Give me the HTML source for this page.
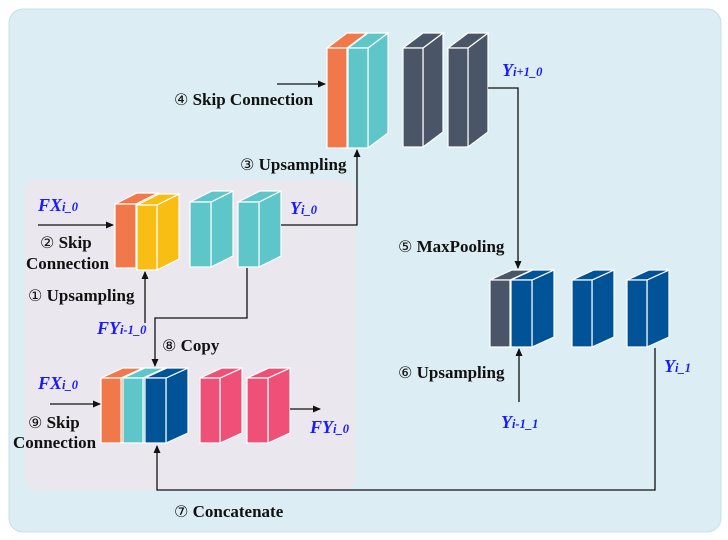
<!DOCTYPE html>
<html><head><meta charset="utf-8"><style>
html,body{margin:0;padding:0;background:#fff;}
svg{display:block;}
text{font-family:"Liberation Serif",serif;font-weight:bold;}
.l{font-size:17px;fill:#111;}
.b{font-size:18px;fill:#1a1aff;font-style:italic;}
.s{font-size:12.5px;}
.c{font-weight:normal;font-family:"DejaVu Sans",sans-serif;font-size:16px;}
</style></head><body>
<svg id="sv" width="728" height="540" viewBox="0 0 728 540" xmlns="http://www.w3.org/2000/svg">
<defs><marker id="a" markerWidth="8" markerHeight="8" refX="7" refY="4" orient="auto" markerUnits="userSpaceOnUse"><path d="M0,0.5 L8,4 L0,7.5z" fill="#111"/></marker></defs>
<rect x="9" y="9" width="712" height="523" rx="14" fill="#dcedf3" stroke="#c9dfe7"/>
<rect x="25" y="180" width="331" height="310" rx="12" fill="#ebe7ef"/>
<g id="blocks"></g>
<g stroke="#111" stroke-width="1.3" fill="none">
<line x1="277" y1="84" x2="325" y2="84" marker-end="url(#a)"/>
<polyline points="488,88 518,88 518,268" marker-end="url(#a)"/>
<polyline points="281,225 357,225 357,150" marker-end="url(#a)"/>
<line x1="38" y1="225" x2="113" y2="225" marker-end="url(#a)"/>
<line x1="145" y1="323" x2="145" y2="272" marker-end="url(#a)"/>
<polyline points="247,268 247,318 155,318 155,366" marker-end="url(#a)"/>
<line x1="50" y1="404" x2="100" y2="404" marker-end="url(#a)"/>
<line x1="290" y1="409" x2="320" y2="409" marker-end="url(#a)"/>
<polyline points="655,348 655,490 157,490 157,446" marker-end="url(#a)"/>
<line x1="519" y1="402" x2="519" y2="349" marker-end="url(#a)"/>
</g>
<text class="l" x="174" y="105"><tspan class="c">④</tspan> Skip Connection</text>
<text class="l" x="240" y="170"><tspan class="c">③</tspan> Upsampling</text>
<text class="b" x="502" y="76">Y<tspan class="s">i+1_0</tspan></text>
<text class="b" x="38" y="211">FX<tspan class="s">i_0</tspan></text>
<text class="l" x="40" y="248"><tspan class="c">②</tspan> Skip</text>
<text class="l" x="26" y="269">Connection</text>
<text class="l" x="28" y="301"><tspan class="c">①</tspan> Upsampling</text>
<text class="b" x="290" y="214">Y<tspan class="s">i_0</tspan></text>
<text class="b" x="97" y="334">FY<tspan class="s">i-1_0</tspan></text>
<text class="l" x="162" y="351"><tspan class="c">⑧</tspan> Copy</text>
<text class="b" x="38" y="389">FX<tspan class="s">i_0</tspan></text>
<text class="l" x="28" y="428"><tspan class="c">⑨</tspan> Skip</text>
<text class="l" x="13" y="448">Connection</text>
<text class="b" x="310" y="433">FY<tspan class="s">i_0</tspan></text>
<text class="l" x="174" y="517"><tspan class="c">⑦</tspan> Concatenate</text>
<text class="l" x="398" y="252"><tspan class="c">⑤</tspan> MaxPooling</text>
<text class="l" x="398" y="378"><tspan class="c">⑥</tspan> Upsampling</text>
<text class="b" x="664" y="372">Y<tspan class="s">i_1</tspan></text>
<text class="b" x="501" y="428">Y<tspan class="s">i-1_1</tspan></text>
</svg>
<script>
var g=document.getElementById('blocks'),h='';
function B(x,y,w,hh,dx,dy,c){
var st=' fill="'+c+'" stroke="#fff" stroke-width="1.2"';
h+='<polygon points="'+(x+w)+','+y+' '+(x+w+dx)+','+(y-dy)+' '+(x+w+dx)+','+(y+hh-dy)+' '+(x+w)+','+(y+hh)+'"'+st+'/>';
h+='<polygon points="'+x+','+y+' '+(x+dx)+','+(y-dy)+' '+(x+w+dx)+','+(y-dy)+' '+(x+w)+','+y+'"'+st+'/>';
h+='<rect x="'+x+'" y="'+y+'" width="'+w+'" height="'+hh+'"'+st+'/>';
}
var O='#f0784a',C='#5ec6c8',D='#4b5568',Yl='#f8be14',Bl='#005396',P='#ef5077';
B(327,48,20,100,20,15,O);B(348,48,20,100,20,15,C);
B(403,48,20,99,20,15,D);B(448,48,20,99,20,15,D);
B(115,204,21,64,22,11,O);B(137,205,20,65,22,11,Yl);
B(190,202,21,65,22,11,C);B(238,202,21,65,22,11,C);
B(101,378,20,65,22,10,O);B(123,378,20,65,22,10,C);B(145,378,21,65,22,10,Bl);
B(200,378,20,65,22,10,P);B(247,378,21,65,22,10,P);
B(490,280,20,67,22,10,D);B(511,280,21,67,22,10,Bl);
B(572,280,20,67,22,10,Bl);B(627,280,20,67,22,10,Bl);
g.innerHTML=h;
</script>
</body></html>
